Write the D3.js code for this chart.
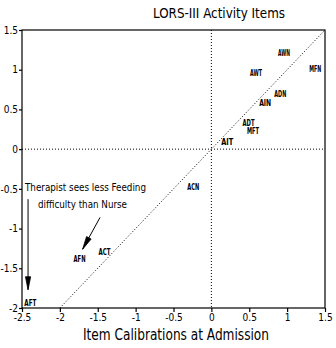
<!DOCTYPE html>
<html>
<head>
<meta charset="utf-8">
<script src="https://cdn.jsdelivr.net/npm/d3@7"></script>
<style>
  html, body { margin: 0; padding: 0; background: #fff; }
  text { font-family: "DejaVu Sans Condensed", "Liberation Sans Narrow", sans-serif; fill: #000; }
</style>
</head>
<body>
<svg id="chart" width="336" height="348"></svg>
<script>
// Item calibrations: admission (x) vs. comparison rating (y)
const items  = ["AWN", "MFN", "AWT", "ADN", "AIN", "ADT", "MFT", "AIT", "ACN", "ACT", "AFN", "AFT"];
const xCal   = [0.96, 1.37, 0.59, 0.91, 0.71, 0.49, 0.55, 0.21, -0.24, -1.41, -1.74, -2.39];
const yCal   = [1.21, 1.01, 0.95, 0.69, 0.58, 0.33, 0.23, 0.09, -0.48, -1.30, -1.39, -1.94];

const xTicks = [-2.5, -2, -1.5, -1, -0.5, 0, 0.5, 1, 1.5];
const yTicks = [-2, -1.5, -1, -0.5, 0, 0.5, 1, 1.5];
const xTickLabels = ["-2.5", "-2", "-1.5", "-1", "-0.5", "0", "0.5", "1", "1.5"];
const yTickLabels = ["-2", "-1.5", "-1", "-0.5", "0", "0.5", "1", "1.5"];

// Annotation: note text and arrows (data units)
const noteLines = ["Therapist sees less Feeding", "difficulty than Nurse"];
const noteArrows = [
  { from: [-2.42, -0.63], to: [-2.42, -1.77] },
  { from: [-1.47, -0.86], to: [-1.70, -1.26] }
];

const svg = d3.select("#chart");
const x = d3.scaleLinear().domain([-2.5, 1.5]).range([22, 325]);
const y = d3.scaleLinear().domain([-2, 1.5]).range([308, 30]);

// Title
svg.append("text")
  .attr("x", 219).attr("y", 18)
  .attr("text-anchor", "middle")
  .attr("font-size", 14)
  .attr("textLength", 132).attr("lengthAdjust", "spacingAndGlyphs")
  .text("LORS-III Activity Items");

// Reference lines at zero and identity line
const g = svg.append("g");
g.append("line")
  .attr("x1", x(0)).attr("x2", x(0)).attr("y1", y(1.5)).attr("y2", y(-2))
  .attr("stroke", "#000").attr("stroke-width", 1).attr("stroke-dasharray", "1,2");
g.append("line")
  .attr("x1", x(-2.5)).attr("x2", x(1.5)).attr("y1", y(0)).attr("y2", y(0))
  .attr("stroke", "#000").attr("stroke-width", 1).attr("stroke-dasharray", "1,2");
g.append("line")
  .attr("x1", x(-2)).attr("y1", y(-2)).attr("x2", x(1.5)).attr("y2", y(1.5))
  .attr("stroke", "#000").attr("stroke-width", 1).attr("stroke-dasharray", "1,2");

// Frame
svg.append("rect")
  .attr("x", x(-2.5)).attr("y", y(1.5))
  .attr("width", x(1.5) - x(-2.5)).attr("height", y(-2) - y(1.5))
  .attr("fill", "none").attr("stroke", "#000").attr("stroke-width", 1.2);

// Axes
const xAxis = d3.axisBottom(x).tickValues(xTicks).tickSize(4).tickPadding(2)
  .tickFormat((d, i) => xTickLabels[i]);
const yAxis = d3.axisLeft(y).tickValues(yTicks).tickSize(3).tickPadding(1)
  .tickFormat((d, i) => yTickLabels[i]);

const gx = svg.append("g").attr("transform", `translate(0,${y(-2)})`).call(xAxis);
const gy = svg.append("g").attr("transform", `translate(${x(-2.5)},0)`).call(yAxis);
[gx, gy].forEach(a => {
  a.select(".domain").remove();
  a.selectAll(".tick line").attr("stroke", "#000").attr("stroke-width", 1.2);
  a.selectAll(".tick text")
    .attr("font-family", "'DejaVu Sans Condensed', sans-serif")
    .attr("font-size", 10).attr("fill", "#000");
});

// Axis title
svg.append("text")
  .attr("x", 176).attr("y", 340)
  .attr("text-anchor", "middle")
  .attr("font-size", 16)
  .attr("textLength", 186).attr("lengthAdjust", "spacingAndGlyphs")
  .text("Item Calibrations at Admission");

// Item labels
svg.append("g").selectAll("text")
  .data(items)
  .join("text")
  .attr("x", (d, i) => x(xCal[i]))
  .attr("y", (d, i) => y(yCal[i]))
  .attr("dy", "0.35em")
  .attr("text-anchor", "middle")
  .attr("font-size", 8).attr("font-weight", "bold")
  .attr("textLength", 12).attr("lengthAdjust", "spacingAndGlyphs")
  .text(d => d);

// Note text
svg.append("g").selectAll("text")
  .data(noteLines)
  .join("text")
  .attr("x", (d, i) => i === 0 ? 25 : 38)
  .attr("y", (d, i) => 191 + i * 17)
  .attr("font-size", 11)
  .attr("textLength", (d, i) => i === 0 ? 121 : 89)
  .attr("lengthAdjust", "spacingAndGlyphs")
  .text(d => d);

// Note arrows: shaft plus narrow filled head
const arrows = svg.append("g");
noteArrows.forEach(a => {
  const x0 = x(a.from[0]), y0 = y(a.from[1]);
  const x1 = x(a.to[0]), y1 = y(a.to[1]);
  arrows.append("line")
    .attr("x1", x0).attr("y1", y0).attr("x2", x1).attr("y2", y1)
    .attr("stroke", "#000").attr("stroke-width", 1);
  const ang = Math.atan2(y1 - y0, x1 - x0);
  const len = 13, half = 2.6;
  const bx = x1 - len * Math.cos(ang), by = y1 - len * Math.sin(ang);
  const px = -Math.sin(ang) * half, py = Math.cos(ang) * half;
  arrows.append("path")
    .attr("d", `M${x1},${y1}L${bx + px},${by + py}L${bx - px},${by - py}Z`)
    .attr("fill", "#000").attr("stroke", "#000").attr("stroke-width", 0.8);
});
</script>
</body>
</html>
